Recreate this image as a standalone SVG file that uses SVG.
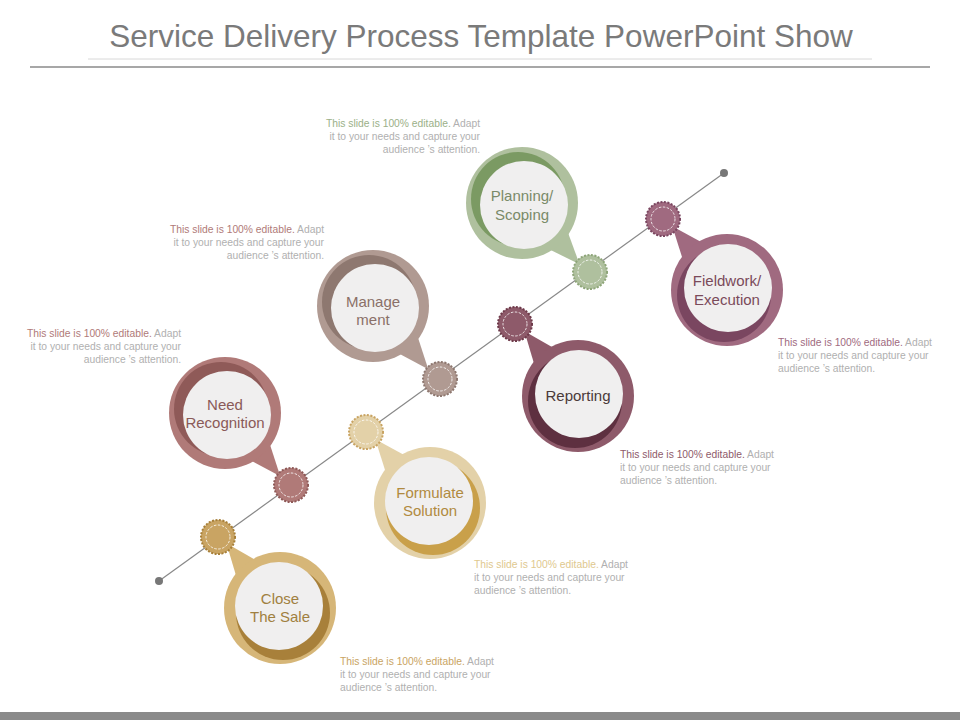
<svg xmlns="http://www.w3.org/2000/svg" width="960" height="720" viewBox="0 0 960 720">
<style>
text{font-family:"Liberation Sans",Arial,sans-serif}
.lbl{font-size:15px;text-anchor:middle}
.d{font-size:10.3px;fill:#b0b0b0}
.r{text-anchor:end}
.in{fill:#f0efef}
.dash{fill:none;stroke:#fff;stroke-width:1;stroke-dasharray:2.5 1.5;opacity:.8}
</style>
<rect width="960" height="720" fill="#fff"/>
<text x="481" y="47" font-size="31.5" fill="#7a7a7a" text-anchor="middle">Service Delivery Process Template PowerPoint Show</text>
<line x1="88" y1="59" x2="872" y2="59" stroke="#d8d8d8"/>
<line x1="30" y1="67" x2="930" y2="67" stroke="#8a8a8a" stroke-width="1.3"/>
<rect x="0" y="712" width="960" height="8" fill="#8a8a8a"/>
<g id="connectors">
<line x1="159" y1="581" x2="724" y2="173" stroke="#888" stroke-width="1.2"/>
<circle cx="159" cy="581" r="4" fill="#777"/>
<circle cx="724" cy="173" r="4" fill="#777"/>
</g>
<g id="need">
<g transform="translate(225,413)"><polygon transform="rotate(47.5)" points="40,-18 84,2 44,16" fill="#b07a78"/><circle r="56" fill="#b07a78"/><circle cx="-4" cy="-4" r="47" fill="#8f5a58"/><circle cx="2" cy="2" r="44" class="in"/>
<text class="lbl" y="-3" fill="#8a5a58">Need</text><text class="lbl" y="15" fill="#8a5a58">Recognition</text></g>
<circle cx="291" cy="485" r="17" fill="#b07a78" stroke="#8f5a58" stroke-width="2" stroke-dasharray="2 1.5"/><circle cx="291" cy="485" r="12" class="dash"/>
<text class="d r" x="181" y="337"><tspan fill="#b07a78">This slide is 100% editable.</tspan> Adapt</text>
<text class="d r" x="181" y="350">it to your needs and capture your</text>
<text class="d r" x="181" y="363">audience ’s attention.</text>
</g>
<g id="close">
<g transform="translate(280,608)"><polygon transform="rotate(-131)" points="40,-18 84,2 44,16" fill="#d6b678"/><circle r="56" fill="#d6b678"/><circle cx="3" cy="5" r="47" fill="#a8803a"/><circle cx="-1" cy="-2" r="44" class="in"/>
<text class="lbl" y="-4" fill="#a08040">Close</text><text class="lbl" y="14" fill="#a08040">The Sale</text></g>
<circle cx="218" cy="537" r="17" fill="#c9a463" stroke="#a8803a" stroke-width="2" stroke-dasharray="2 1.5"/><circle cx="218" cy="537" r="12" class="dash"/>
<text class="d" x="340" y="665"><tspan fill="#c9a463">This slide is 100% editable.</tspan> Adapt</text>
<text class="d" x="340" y="678">it to your needs and capture your</text>
<text class="d" x="340" y="691">audience ’s attention.</text>
</g>
<g id="management">
<g transform="translate(373,306)"><polygon transform="rotate(47.5)" points="40,-18 84,2 44,16" fill="#b09a92"/><circle r="56" fill="#b09a92"/><circle cx="-4" cy="-4" r="47" fill="#8e7870"/><circle cx="2" cy="2" r="44" class="in"/>
<text class="lbl" y="1" fill="#8a7068">Manage</text><text class="lbl" y="19" fill="#8a7068">ment</text></g>
<circle cx="440" cy="379" r="17" fill="#b09a92" stroke="#8e7870" stroke-width="2" stroke-dasharray="2 1.5"/><circle cx="440" cy="379" r="12" class="dash"/>
<text class="d r" x="324" y="233"><tspan fill="#b07a78">This slide is 100% editable.</tspan> Adapt</text>
<text class="d r" x="324" y="246">it to your needs and capture your</text>
<text class="d r" x="324" y="259">audience ’s attention.</text>
</g>
<g id="formulate">
<g transform="translate(430,503)"><polygon transform="rotate(-132)" points="40,-18 84,2 44,16" fill="#e3d1a8"/><circle r="56" fill="#e3d1a8"/><circle cx="3" cy="5" r="47" fill="#c9a04a"/><circle cx="-1" cy="-2" r="44" class="in"/>
<text class="lbl" y="-5" fill="#b08a40">Formulate</text><text class="lbl" y="13" fill="#b08a40">Solution</text></g>
<circle cx="366" cy="432" r="17" fill="#e3d1a8" stroke="#c9a463" stroke-width="2" stroke-dasharray="2 1.5"/><circle cx="366" cy="432" r="12" class="dash"/>
<text class="d" x="474" y="568"><tspan fill="#e0c88e">This slide is 100% editable.</tspan> Adapt</text>
<text class="d" x="474" y="581">it to your needs and capture your</text>
<text class="d" x="474" y="594">audience ’s attention.</text>
</g>
<g id="planning">
<g transform="translate(522,203)"><polygon transform="rotate(45.4)" points="40,-18 84,2 44,16" fill="#afc09e"/><circle r="56" fill="#afc09e"/><circle cx="-4" cy="-4" r="47" fill="#7b9a63"/><circle cx="2" cy="2" r="44" class="in"/>
<text class="lbl" y="-2" fill="#7a8a68">Planning/</text><text class="lbl" y="17" fill="#7a8a68">Scoping</text></g>
<circle cx="590" cy="272" r="17" fill="#afc09e" stroke="#8fa67a" stroke-width="2" stroke-dasharray="2 1.5"/><circle cx="590" cy="272" r="12" class="dash"/>
<text class="d r" x="480" y="127"><tspan fill="#9bb088">This slide is 100% editable.</tspan> Adapt</text>
<text class="d r" x="480" y="140">it to your needs and capture your</text>
<text class="d r" x="480" y="153">audience ’s attention.</text>
</g>
<g id="reporting">
<g transform="translate(578,396)"><polygon transform="rotate(-131)" points="40,-18 84,2 44,16" fill="#8e5a6a"/><circle r="56" fill="#8e5a6a"/><circle cx="-3" cy="5" r="47" fill="#5e3040"/><circle cx="1" cy="-2" r="44" class="in"/>
<text class="lbl" y="5" fill="#4a3a3a">Reporting</text></g>
<circle cx="515" cy="324" r="17" fill="#8e5a6a" stroke="#6e3a4a" stroke-width="2" stroke-dasharray="2 1.5"/><circle cx="515" cy="324" r="12" class="dash"/>
<text class="d" x="620" y="458"><tspan fill="#8e5a6a">This slide is 100% editable.</tspan> Adapt</text>
<text class="d" x="620" y="471">it to your needs and capture your</text>
<text class="d" x="620" y="484">audience ’s attention.</text>
</g>
<g id="fieldwork">
<g transform="translate(727,290)"><polygon transform="rotate(-132)" points="40,-18 84,2 44,16" fill="#a06a80"/><circle r="56" fill="#a06a80"/><circle cx="-3" cy="5" r="47" fill="#7a4660"/><circle cx="1" cy="-2" r="44" class="in"/>
<text class="lbl" y="-4" fill="#7a4a5a">Fieldwork/</text><text class="lbl" y="15" fill="#7a4a5a">Execution</text></g>
<circle cx="663" cy="219" r="17" fill="#a06a80" stroke="#7a4660" stroke-width="2" stroke-dasharray="2 1.5"/><circle cx="663" cy="219" r="12" class="dash"/>
<text class="d" x="778" y="346"><tspan fill="#a06a80">This slide is 100% editable.</tspan> Adapt</text>
<text class="d" x="778" y="359">it to your needs and capture your</text>
<text class="d" x="778" y="372">audience ’s attention.</text>
</g>
</svg>
